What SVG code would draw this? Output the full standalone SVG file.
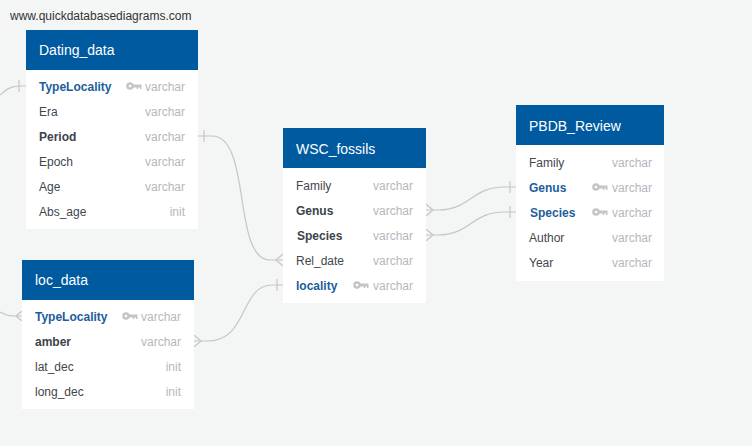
<svg xmlns="http://www.w3.org/2000/svg" width="752" height="446" viewBox="0 0 752 446">
<defs>
<style>
.bg{fill:#f4f5f5}
.body{fill:#ffffff}
.head{fill:#005a9f}
.title{font-family:"Liberation Sans",Arial,sans-serif;font-size:14px;fill:#ffffff}
.f{font-family:"Liberation Sans",Arial,sans-serif;font-size:12px;fill:#3f464d}
.b{font-weight:bold;fill:#3c434a}
.k{font-weight:bold;fill:#1d5d9b}
.t{font-family:"Liberation Sans",Arial,sans-serif;font-size:12px;fill:#b4b8bc;text-anchor:end}
.wm{font-family:"Liberation Sans",Arial,sans-serif;font-size:12px;fill:#333333}
.c{fill:none;stroke:#c4c6c8;stroke-width:1.2}
.key{fill:#c3c6c9}
</style>
<g id="keyicon">
<circle cx="4" cy="0" r="3.8" class="key"/>
<circle cx="4" cy="0" r="1.3" fill="#ffffff"/>
<path d="M7,-1.4 H15.5 V3 H14 V1.4 H12.2 V3 H10.7 V1.4 H7 Z" class="key"/>
</g>
</defs>
<rect class="bg" x="0" y="0" width="752" height="446"/>
<text class="wm" x="10" y="20">www.quickdatabasediagrams.com</text>

<g id="connectors">
<path class="c" d="M0,95 C8,88 12,86 20,86 H26"/>
<path class="c" d="M19,80 V92"/>
<path class="c" d="M0,312 C8,316 10,316 16,316 H22 M22,311 L16,316 L22,321"/>
<path class="c" d="M198,136 H212 C252,136 232,260 270,260 H283"/>
<path class="c" d="M204,130 V142"/>
<path class="c" d="M283,254 L276,260 L283,266"/>
<path class="c" d="M194,341 H208 C248,341 240,285 272,285 H283"/>
<path class="c" d="M194,335 L201,341 L194,347"/>
<path class="c" d="M277,279 V291"/>
<path class="c" d="M426,210 H438 C470,210 472,187 504,187 H516"/>
<path class="c" d="M426,204 L433,210 L426,216"/>
<path class="c" d="M510,181 V193"/>
<path class="c" d="M426,235 H438 C470,235 472,212 504,212 H516"/>
<path class="c" d="M426,229 L433,235 L426,241"/>
<path class="c" d="M510,206 V218"/>
</g>

<g id="Dating_data">
<rect class="body" x="26" y="70" width="172" height="159"/>
<rect class="head" x="26" y="30" width="172" height="40"/>
<text class="title" x="39" y="55">Dating_data</text>
<text class="f k" x="39" y="90.5">TypeLocality</text>
<use href="#keyicon" x="126" y="86"/>
<text class="t" x="185" y="90.5">varchar</text>
<text class="f" x="39" y="115.5">Era</text>
<text class="t" x="185" y="115.5">varchar</text>
<text class="f b" x="39" y="140.5">Period</text>
<text class="t" x="185" y="140.5">varchar</text>
<text class="f" x="39" y="165.5">Epoch</text>
<text class="t" x="185" y="165.5">varchar</text>
<text class="f" x="39" y="190.5">Age</text>
<text class="t" x="185" y="190.5">varchar</text>
<text class="f" x="39" y="215.5">Abs_age</text>
<text class="t" x="185" y="215.5">init</text>
</g>

<g id="loc_data">
<rect class="body" x="22" y="300" width="172" height="109"/>
<rect class="head" x="22" y="260" width="172" height="40"/>
<text class="title" x="35" y="285">loc_data</text>
<text class="f k" x="35" y="320.5">TypeLocality</text>
<use href="#keyicon" x="122" y="316"/>
<text class="t" x="181" y="320.5">varchar</text>
<text class="f b" x="35" y="345.5">amber</text>
<text class="t" x="181" y="345.5">varchar</text>
<text class="f" x="35" y="370.5">lat_dec</text>
<text class="t" x="181" y="370.5">init</text>
<text class="f" x="35" y="395.5">long_dec</text>
<text class="t" x="181" y="395.5">init</text>
</g>

<g id="WSC_fossils">
<rect class="body" x="283" y="168" width="143" height="135"/>
<rect class="head" x="283" y="128" width="143" height="40"/>
<text class="title" x="296" y="154">WSC_fossils</text>
<text class="f" x="296" y="189.5">Family</text>
<text class="t" x="413" y="189.5">varchar</text>
<text class="f b" x="296" y="214.5">Genus</text>
<text class="t" x="413" y="214.5">varchar</text>
<text class="f b" x="297" y="239.5">Species</text>
<text class="t" x="413" y="239.5">varchar</text>
<text class="f" x="296" y="264.5">Rel_date</text>
<text class="t" x="413" y="264.5">varchar</text>
<text class="f k" x="296" y="289.5">locality</text>
<use href="#keyicon" x="353" y="285"/>
<text class="t" x="413" y="289.5">varchar</text>
</g>

<g id="PBDB_Review">
<rect class="body" x="516" y="145" width="148" height="136"/>
<rect class="head" x="516" y="105" width="148" height="40"/>
<text class="title" x="529" y="131">PBDB_Review</text>
<text class="f" x="529" y="166.5">Family</text>
<text class="t" x="652" y="166.5">varchar</text>
<text class="f k" x="529" y="191.5">Genus</text>
<use href="#keyicon" x="592" y="187"/>
<text class="t" x="652" y="191.5">varchar</text>
<text class="f k" x="530" y="216.5">Species</text>
<use href="#keyicon" x="592" y="212"/>
<text class="t" x="652" y="216.5">varchar</text>
<text class="f" x="529" y="241.5">Author</text>
<text class="t" x="652" y="241.5">varchar</text>
<text class="f" x="529" y="266.5">Year</text>
<text class="t" x="652" y="266.5">varchar</text>
</g>
</svg>
